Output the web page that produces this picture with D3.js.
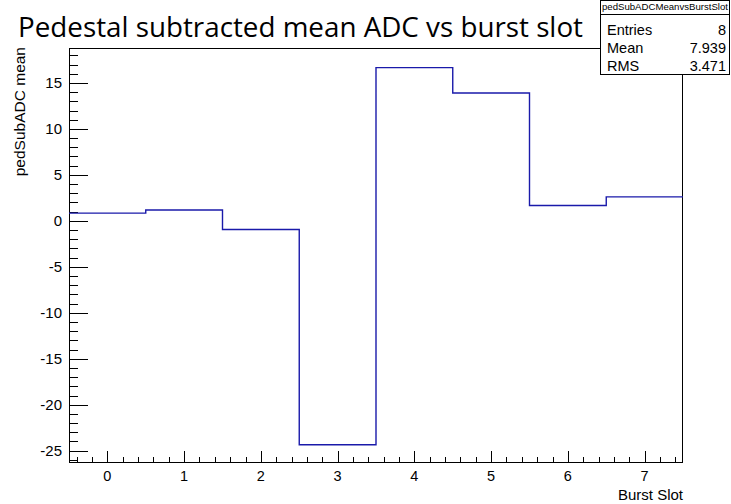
<!DOCTYPE html>
<html><head><meta charset="utf-8">
<script src="https://d3js.org/d3.v7.min.js"></script>
<style>body{margin:0;background:#fff}svg{display:block}</style>
</head><body>
<script>
const bins = [0,1,2,3,4,5,6,7];
const values = [0.84, 1.18, -0.95, -24.35, 16.67, 13.9, 1.67, 2.61];
const xTicks = [0,1,2,3,4,5,6,7];
const yTicks = [-25,-20,-15,-10,-5,0,5,10,15];
const statsLabels = ["Entries","Mean","RMS"];
const statsValues = ["8","7.939","3.471"];
const title = "Pedestal subtracted mean ADC vs burst slot";
const xTitle = "Burst Slot";
const yTitle = "pedSubADC mean";
const histName = "pedSubADCMeanvsBurstSlot";

const W=731,H=504;
const L=69,R=683,T=48,B=463;
const svg=d3.select("body").append("svg").attr("width",W).attr("height",H);
const x=d3.scaleLinear().domain([-0.5,7.5]).range([L,R]);
const y=d3.scaleLinear().domain([-26.34,18.8]).range([B,T]);
const font="Liberation Sans, Arial, sans-serif";

// frame
svg.append("rect").attr("x",L+0.5).attr("y",T+0.5).attr("width",R-L-1).attr("height",B-T-1)
  .attr("fill","none").attr("stroke","#000").attr("stroke-width",1);

// x ticks
const xMinor=d3.range(-0.4,7.5,0.2).map(v=>+v.toFixed(2));
const gx=svg.append("g");
xMinor.forEach(v=>{
  const isMaj=Math.abs(v-Math.round(v))<1e-6;
  const px=Math.round(x(v))+0.5;
  gx.append("line").attr("x1",px).attr("x2",px).attr("y1",B).attr("y2",B-(isMaj?12:6))
    .attr("stroke","#000").attr("stroke-width",1);
});
xTicks.forEach(v=>{
  gx.append("text").attr("x",x(v)).attr("y",481).attr("text-anchor","middle")
    .attr("font-family",font).attr("font-size",14.5).text(v);
});
// y ticks
const yMinor=d3.range(-26,19,1);
const gy=svg.append("g");
yMinor.forEach(v=>{
  const isMaj=v%5===0;
  const py=Math.round(y(v))+0.5;
  gy.append("line").attr("x1",L).attr("x2",L+(isMaj?19:9)).attr("y1",py).attr("y2",py)
    .attr("stroke","#000").attr("stroke-width",1);
});
yTicks.forEach(v=>{
  gy.append("text").attr("x",62).attr("y",y(v)+5.5).attr("text-anchor","end")
    .attr("font-family",font).attr("font-size",15).text(v);
});

// histogram step line
const pts=[];
bins.forEach((b,i)=>{pts.push([x(b-0.5),y(values[i])]);pts.push([x(b+0.5),y(values[i])]);});
svg.append("path").attr("d",d3.line()(pts)).attr("fill","none")
  .attr("stroke","#1a1aaa").attr("stroke-width",1.4);

// axis titles
svg.append("text").attr("x",R).attr("y",500).attr("text-anchor","end")
  .attr("font-family",font).attr("font-size",15).text(xTitle);
svg.append("text").attr("transform",`translate(25,${T-1}) rotate(-90)`).attr("text-anchor","end")
  .attr("font-family",font).attr("font-size",15.5).text(yTitle);

// stats box
const sb=svg.append("g");
sb.append("rect").attr("x",600.5).attr("y",0.5).attr("width",129).attr("height",74)
  .attr("fill","#fff").attr("stroke","#000");
sb.append("line").attr("x1",600).attr("x2",730).attr("y1",14.5).attr("y2",14.5).attr("stroke","#000");
sb.append("text").attr("x",665).attr("y",10).attr("text-anchor","middle")
  .attr("font-family",font).attr("font-size",9).attr("textLength",126).attr("lengthAdjust","spacingAndGlyphs").text(histName);
statsLabels.forEach((s,i)=>{
  sb.append("text").attr("x",607).attr("y",35+i*18).attr("font-family",font).attr("font-size",14.5).text(s);
  sb.append("text").attr("x",726).attr("y",35+i*18).attr("text-anchor","end").attr("font-family",font).attr("font-size",14.5).text(statsValues[i]);
});

// title
svg.append("text").attr("x",18).attr("y",37).attr("font-family","Open Sans, Lato, sans-serif")
  .attr("font-size",28).attr("textLength",565).attr("lengthAdjust","spacingAndGlyphs").text(title);
</script>
</body></html>
